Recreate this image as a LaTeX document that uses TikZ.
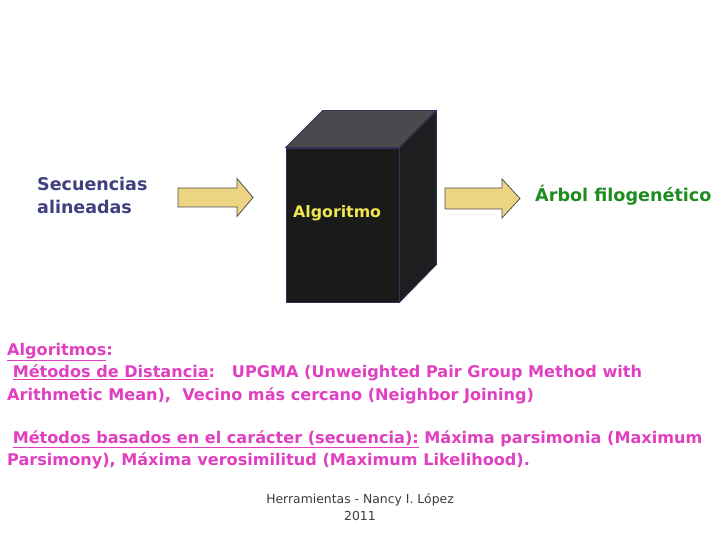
\documentclass[tikz,border=0pt]{standalone}
\usepackage{fontspec}
\setmainfont{DejaVu Sans}
\usetikzlibrary{positioning, calc}
\definecolor{azultexto}{RGB}{64, 64, 128}
\definecolor{verdetexto}{RGB}{30, 140, 30}
\definecolor{amarillo}{RGB}{240, 230, 80}
\definecolor{magenta}{RGB}{224, 64, 192}
\definecolor{flechafondo}{RGB}{236, 212, 130}
\definecolor{flechaborde}{RGB}{80, 80, 80}
\definecolor{cubofrente}{RGB}{26, 26, 26}
\definecolor{cubotapa}{RGB}{74, 74, 78}
\definecolor{cubolado}{RGB}{30, 30, 32}
\definecolor{cuboborde}{RGB}{50, 50, 90}
\definecolor{grispie}{RGB}{60, 60, 60}
\tikzset{
    rotulo/.style = {inner sep=0pt, anchor=base west},
    entrada/.style = {rotulo, text=azultexto, font=\bfseries\fontsize{17.5}{20}\selectfont},
    salida/.style = {rotulo, text=verdetexto, font=\bfseries\fontsize{17.6}{20}\selectfont},
    metodo/.style = {rotulo, text=magenta, font=\bfseries\fontsize{16.1}{18}\selectfont},
    pie/.style = {inner sep=0pt, anchor=base, text=grispie, font=\fontsize{12.4}{14}\selectfont},
    flecha/.style = {draw=flechaborde, fill=flechafondo, line width=0.8pt, line join=miter},
    cara/.style = {rectangle, draw=cuboborde, fill=cubofrente, line width=0.8pt, minimum width=113pt, minimum height=154pt, inner sep=0pt},
    tapa/.style = {draw=cuboborde, fill=cubotapa, line width=0.8pt},
    lado/.style = {draw=cuboborde, fill=cubolado, line width=0.8pt}
}

\begin{document}
\begin{tikzpicture}[x=1pt, y=-1pt]
\useasboundingbox (0,0) rectangle (720,540);

% caja negra
\node (frente) [cara] at (342.5,225) {};
\filldraw [tapa] (frente.north west) -- ++(37,-37) -- ++(113,0) -- (frente.north east) -- cycle;
\filldraw [lado] (frente.north east) -- ++(37,-37) -- ++(0,154) -- (frente.south east) -- cycle;
\node (algoritmo) [rotulo, text=amarillo, font=\bfseries\fontsize{15.8}{18}\selectfont] at (293,218) {Algoritmo};

% entrada y salida
\node (secuencias) [entrada] at (37,191) {Secuencias};
\node (alineadas) [entrada] at (37,213.3) {alineadas};
\node (arbol) [salida] at (535,201.7) {Árbol filogenético};

% flechas
\coordinate (flechaA) at (178,197.5);
\coordinate (flechaB) at (445,198.5);
\draw [flecha] (flechaA) ++(0,-9.5) -- ++(59,0) -- ++(0,-9.5) -- ++(16,19) -- ++(-16,19) -- ++(0,-9.5) -- ++(-59,0) -- cycle;
\draw [flecha] (flechaB) ++(0,-10.5) -- ++(57,0) -- ++(0,-9) -- ++(18,19.5) -- ++(-18,19.5) -- ++(0,-9) -- ++(-57,0) -- cycle;

% lista de algoritmos
\node (lin1) [metodo] at (7,355.7) {\underline{Algoritmos}:};
\node (lin2) [metodo] at (7,377.9) {\ \underline{Métodos de Distancia}:\ \ \ UPGMA (Unweighted Pair Group Method with};
\node (lin3) [metodo] at (7,400.1) {Arithmetic Mean),\ \ Vecino más cercano (Neighbor Joining)};
\node (lin4) [metodo] at (7,443.3) {\ \underline{Métodos basados en el carácter (secuencia):} Máxima parsimonia (Maximum};
\node (lin5) [metodo] at (7,465.3) {Parsimony), Máxima verosimilitud (Maximum Likelihood).};

% pie
\node (autor) [pie] at (360,503.3) {Herramientas - Nancy I. López};
\node (anio) [pie] at (360,520.5) {2011};
\end{tikzpicture}
\end{document}
